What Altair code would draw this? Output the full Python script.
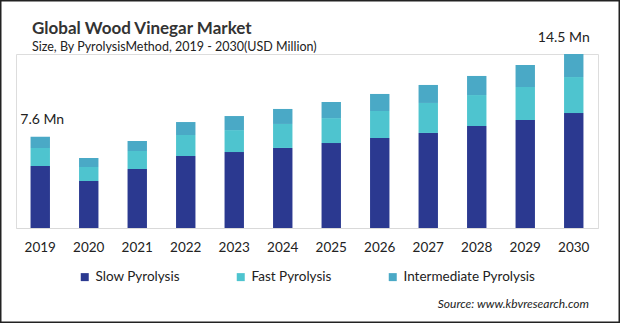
import altair as alt
import pandas as pd

years = ["2019", "2020", "2021", "2022", "2023", "2024", "2025", "2026", "2027", "2028", "2029", "2030"]
slow = [5.17, 3.92, 4.92, 6.00, 6.33, 6.67, 7.08, 7.50, 7.92, 8.50, 9.00, 9.58]
fast = [1.50, 1.17, 1.50, 1.75, 1.83, 2.00, 2.08, 2.25, 2.50, 2.58, 2.75, 3.00]
inter = [0.93, 0.74, 0.83, 1.08, 1.17, 1.25, 1.34, 1.42, 1.50, 1.59, 1.83, 1.92]
series = ["Slow Pyrolysis", "Fast Pyrolysis", "Intermediate Pyrolysis"]
colors = ["#2B3990", "#4EC4CF", "#4AA9C6"]
label_years = ["2019", "2030"]
label_texts = ["7.6 Mn", "14.5 Mn"]
title_text = "Global Wood Vinegar Market"
subtitle_text = "Size, By PyrolysisMethod, 2019 - 2030(USD Million)"
source_text = "Source: www.kbvresearch.com"

rows = []
for i, y in enumerate(years):
    for k, (name, vals) in enumerate(zip(series, [slow, fast, inter])):
        rows.append({"year": y, "series": name, "value": vals[i], "order": k})
df = pd.DataFrame(rows)

totals = pd.DataFrame({
    "year": years,
    "total": [a + b + c for a, b, c in zip(slow, fast, inter)],
})
labels = totals[totals["year"].isin(label_years)].copy()
labels["text"] = [label_texts[label_years.index(y)] for y in labels["year"]]

FONT = "Lato"

x_enc = alt.X("year:N", sort=years,
              scale=alt.Scale(paddingInner=0.6, paddingOuter=0.3),
              axis=alt.Axis(title=None, labelAngle=0, ticks=False, domainColor="#d9d9d9",
                            domainWidth=1.2, labelFontSize=13.5, labelColor="#222222",
                            labelFont=FONT, labelPadding=12, grid=False))
y_scale = alt.Scale(domain=[0, 14.5], nice=False, zero=True)

bars = alt.Chart(df).mark_bar().encode(
    x=x_enc,
    y=alt.Y("value:Q", stack="zero", scale=y_scale, axis=None),
    color=alt.Color("series:N", scale=alt.Scale(domain=series, range=colors),
                    legend=alt.Legend(title=None, orient="none", direction="horizontal",
                                      legendX=62, legendY=216, symbolType="square",
                                      symbolSize=64, symbolStrokeWidth=0, labelFont=FONT,
                                      labelFontSize=13.5, labelColor="#222222",
                                      columnPadding=54, labelOffset=4, padding=0)),
    order=alt.Order("order:Q", sort="ascending"),
)

lab2019 = alt.Chart(labels[labels["year"] == "2019"]).mark_text(
    font=FONT, fontSize=14, color="#222222", dy=-13, dx=2, baseline="alphabetic"
).encode(x=alt.X("year:N", sort=years), y=alt.Y("total:Q", scale=y_scale), text="text:N")

lab2030 = alt.Chart(labels[labels["year"] == "2030"]).mark_text(
    font=FONT, fontSize=14, color="#222222", dy=-12, dx=-10, baseline="alphabetic"
).encode(x=alt.X("year:N", sort=years), y=alt.Y("total:Q", scale=y_scale), text="text:N")

title = alt.Chart(alt.Data(values=[{"t": title_text}])).mark_text(
    font=FONT, fontSize=17, fontWeight="bold", color="#333333", align="left", baseline="alphabetic"
).encode(x=alt.value(16), y=alt.value(-20), text="t:N")

subtitle = alt.Chart(alt.Data(values=[{"t": subtitle_text}])).mark_text(
    font=FONT, fontSize=12.5, color="#222222", align="left", baseline="alphabetic"
).encode(x=alt.value(16), y=alt.value(-3), text="t:N")

source = alt.Chart(alt.Data(values=[{"t": source_text}])).mark_text(
    font=FONT, fontSize=12, fontStyle="italic", color="#222222", align="right", baseline="alphabetic"
).encode(x=alt.value(573), y=alt.value(254), text="t:N")

frame = alt.Chart(alt.Data(values=[{"a": 1}])).mark_rect(
    fill=None, fillOpacity=0, stroke="#222222", strokeWidth=1.5
).encode(x=alt.value(-15.25), x2=alt.value(603.25), y=alt.value(-53.25), y2=alt.value(268.25))

chart = alt.layer(bars, lab2019, lab2030, title, subtitle, source, frame).properties(
    width=582, height=174,
    autosize=alt.AutoSizeParams(type="none"),
    padding={"left": 16, "top": 54, "right": 22, "bottom": 95},
).configure_view(stroke=None).configure(background="white")

chart.save("out.html", embed_options={"renderer": "svg", "actions": False})
